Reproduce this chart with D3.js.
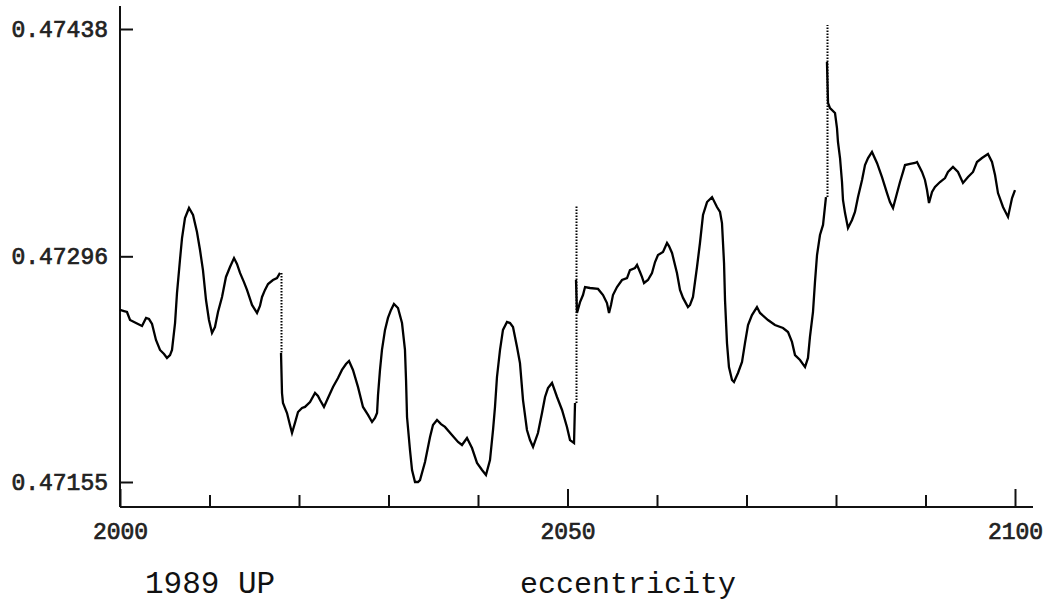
<!DOCTYPE html>
<html>
<head>
<meta charset="utf-8">
<script src="https://cdn.jsdelivr.net/npm/d3@7"></script>
<style>
  html, body { margin: 0; padding: 0; background: #fff; }
  svg { display: block; }
</style>
</head>
<body>
<svg id="chart" width="1049" height="603"></svg>
<script>
// Osculating eccentricity of asteroid 1989 UP, 2000-2100: [year, eccentricity]
const eccentricity = [
  [2000.00,0.472625],[2000.45,0.472618],[2000.78,0.472612],[2001.12,0.472562],[2001.79,0.472543],
  [2002.46,0.472525],[2002.91,0.472575],[2003.24,0.472568],[2003.58,0.472537],[2004.02,0.472437],
  [2004.47,0.472375],[2004.92,0.472350],[2005.25,0.472325],[2005.59,0.472343],[2005.81,0.472375],
  [2006.15,0.472543],[2006.37,0.472731],[2006.70,0.472937],[2006.93,0.473074],[2007.26,0.473199],
  [2007.71,0.473262],[2008.16,0.473218],[2008.60,0.473112],[2008.94,0.472999],[2009.27,0.472874],
  [2009.61,0.472687],[2009.94,0.472562],[2010.28,0.472481],[2010.61,0.472518],[2010.95,0.472612],
  [2011.40,0.472706],[2011.84,0.472831],[2012.29,0.472893],[2012.74,0.472949],[2013.07,0.472912],
  [2013.41,0.472856],[2013.85,0.472799],[2014.19,0.472750],[2014.75,0.472656],[2015.31,0.472606],
  [2015.64,0.472650],[2015.87,0.472706],[2016.20,0.472750],[2016.54,0.472787],[2017.09,0.472812],
  [2017.54,0.472824],[2017.88,0.472856],
  [2017.99,0.472356],[2018.10,0.472106],[2018.21,0.472044],[2018.66,0.471981],[2018.99,0.471906],
  [2019.22,0.471856],[2019.55,0.471919],[2019.89,0.471987],[2020.34,0.472012],[2020.67,0.472019],
  [2021.23,0.472050],[2021.79,0.472106],[2022.12,0.472087],[2022.35,0.472062],[2022.79,0.472019],
  [2023.24,0.472075],[2023.80,0.472144],[2024.36,0.472200],[2024.80,0.472250],[2025.25,0.472287],
  [2025.59,0.472306],[2026.03,0.472250],[2026.59,0.472144],[2027.15,0.472019],[2027.71,0.471969],
  [2028.16,0.471925],[2028.49,0.471950],[2028.72,0.471981],[2028.83,0.472094],[2029.05,0.472250],
  [2029.27,0.472375],[2029.61,0.472500],[2029.94,0.472575],[2030.28,0.472625],[2030.61,0.472662],
  [2031.06,0.472637],[2031.51,0.472543],[2031.84,0.472375],[2031.96,0.472187],[2032.07,0.471956],
  [2032.40,0.471750],[2032.63,0.471625],[2032.96,0.471550],[2033.30,0.471550],[2033.52,0.471562],
  [2034.08,0.471675],[2034.64,0.471831],[2034.97,0.471906],[2035.42,0.471937],[2035.87,0.471912],
  [2036.31,0.471894],[2037.09,0.471844],[2037.77,0.471800],[2038.21,0.471781],[2038.77,0.471825],
  [2039.33,0.471762],[2039.89,0.471669],[2040.45,0.471625],[2040.89,0.471594],[2041.34,0.471687],
  [2041.68,0.471875],[2041.90,0.472019],[2042.12,0.472206],[2042.46,0.472375],[2042.79,0.472500],
  [2043.24,0.472550],[2043.58,0.472543],[2043.91,0.472518],[2044.36,0.472393],[2044.69,0.472293],
  [2045.03,0.472062],[2045.47,0.471875],[2045.81,0.471812],[2046.15,0.471769],[2046.70,0.471856],
  [2047.15,0.471981],[2047.49,0.472081],[2047.82,0.472137],[2048.27,0.472169],[2048.83,0.472081],
  [2049.39,0.472000],[2049.94,0.471894],[2050.28,0.471812],[2050.73,0.471794],[2050.84,0.472044],
  [2050.95,0.472812],[2051.06,0.472606],[2051.40,0.472674],[2051.73,0.472718],[2051.96,0.472768],
  [2052.51,0.472762],[2053.41,0.472756],[2053.97,0.472718],[2054.41,0.472668],[2054.64,0.472606],
  [2054.86,0.472656],[2055.08,0.472718],[2055.53,0.472768],[2056.09,0.472812],[2056.65,0.472824],
  [2056.98,0.472874],[2057.54,0.472887],[2057.77,0.472906],[2058.10,0.472862],[2058.32,0.472831],
  [2058.55,0.472793],[2058.99,0.472812],[2059.44,0.472856],[2059.78,0.472924],[2060.11,0.472968],
  [2060.67,0.472987],[2061.12,0.473043],[2061.34,0.473024],[2061.68,0.472981],[2062.23,0.472856],
  [2062.57,0.472750],[2062.91,0.472700],[2063.46,0.472643],[2063.69,0.472656],[2064.02,0.472706],
  [2064.47,0.472893],[2064.80,0.473043],[2065.14,0.473218],[2065.59,0.473299],[2066.15,0.473330],
  [2066.70,0.473268],[2067.04,0.473237],[2067.26,0.473168],[2067.49,0.472918],[2067.60,0.472687],
  [2067.82,0.472418],[2068.04,0.472268],[2068.38,0.472187],[2068.60,0.472175],[2069.05,0.472231],
  [2069.50,0.472300],[2069.83,0.472418],[2070.17,0.472531],[2070.61,0.472593],[2071.17,0.472643],
  [2071.51,0.472606],[2072.40,0.472562],[2073.18,0.472531],[2074.08,0.472512],[2074.64,0.472487],
  [2075.08,0.472425],[2075.42,0.472343],[2075.98,0.472312],[2076.54,0.472268],[2076.87,0.472325],
  [2077.09,0.472456],[2077.43,0.472612],[2077.65,0.472799],[2077.88,0.472968],[2078.21,0.473093],
  [2078.55,0.473156],[2078.88,0.473330],
  [2078.99,0.474174],[2079.11,0.473918],[2079.33,0.473886],[2079.89,0.473855],[2080.11,0.473761],
  [2080.22,0.473674],[2080.45,0.473574],[2080.67,0.473424],[2080.78,0.473312],[2081.01,0.473230],
  [2081.34,0.473137],[2081.79,0.473187],[2082.12,0.473237],[2082.46,0.473330],[2082.91,0.473437],
  [2083.24,0.473530],[2083.58,0.473574],[2084.02,0.473612],[2084.58,0.473543],[2085.14,0.473455],
  [2085.70,0.473355],[2086.03,0.473299],[2086.37,0.473262],[2086.82,0.473355],[2087.15,0.473424],
  [2087.49,0.473487],[2087.71,0.473530],[2088.27,0.473537],[2088.83,0.473543],[2089.05,0.473549],
  [2089.61,0.473487],[2089.94,0.473437],[2090.17,0.473374],[2090.39,0.473293],[2090.73,0.473362],
  [2091.06,0.473393],[2091.62,0.473424],[2092.18,0.473449],[2092.51,0.473487],[2093.07,0.473518],
  [2093.63,0.473487],[2094.19,0.473418],[2094.75,0.473455],[2095.31,0.473487],[2095.75,0.473549],
  [2096.31,0.473574],[2096.98,0.473599],[2097.43,0.473549],[2097.77,0.473468],[2098.10,0.473355],
  [2098.66,0.473268],[2099.22,0.473206],[2099.67,0.473324],[2100.00,0.473374]
];

// Close approaches: the eccentricity jumps within one sample step
const jumpYears = [2017.99, 2050.90, 2078.99];
const jumpFrom  = [0.472856, 0.472044, 0.473330];
const jumpTo    = [0.472356, 0.473280, 0.474405];

const yTicks = [0.47155, 0.47296, 0.47438];
const xMajorTicks = [2000, 2050, 2100];
const xMinorTicks = [2010, 2020, 2030, 2040, 2060, 2070, 2080, 2090];
const objectName = "1989 UP";
const quantity = "eccentricity";

const svg = d3.select("#chart");
const axisLeftX = 120, axisBottomY = 507, axisTopY = 6, axisRightX = 1033;
const monoFont = "'Liberation Mono', 'DejaVu Sans Mono', monospace";

const x = d3.scaleLinear().domain([2000, 2100]).range([120, 1015]);
const y = d3.scaleLinear().domain([0.47155, 0.47438]).range([482, 29]);

// ---- axes ----
const yAxis = svg.append("g")
  .attr("transform", `translate(${axisLeftX},0)`)
  .call(d3.axisLeft(y).tickValues(yTicks).tickSize(-13).tickSizeOuter(0)
        .tickPadding(12).tickFormat(d3.format(".5f")));
yAxis.select(".domain").attr("d", `M0,${axisTopY}V${axisBottomY}`);

const xMinor = svg.append("g")
  .attr("transform", `translate(0,${axisBottomY})`)
  .call(d3.axisBottom(x).tickValues(xMinorTicks).tickSize(-12).tickSizeOuter(0).tickFormat(""));
xMinor.select(".domain").attr("d", `M${axisLeftX},0H${axisRightX}`);

const xMajor = svg.append("g")
  .attr("transform", `translate(0,${axisBottomY})`)
  .call(d3.axisBottom(x).tickValues(xMajorTicks).tickSize(-18).tickSizeOuter(0)
        .tickPadding(16).tickFormat(d3.format("d")));
xMajor.select(".domain").remove();

svg.selectAll(".domain, .tick line")
  .attr("stroke", "#111").attr("stroke-width", 2);
svg.selectAll(".tick text")
  .attr("fill", "#222")
  .attr("stroke", "#222")
  .attr("stroke-width", 0.7)
  .style("font-family", monoFont)
  .style("font-size", "23px");

// ---- series, split at the jumps ----
const segments = [];
eccentricity.forEach(d => {
  const k = jumpYears.filter(j => j <= d[0]).length;
  (segments[k] = segments[k] || []).push(d);
});

const line = d3.line().x(d => x(d[0])).y(d => y(d[1]));
svg.append("g").selectAll("path")
  .data(segments)
  .join("path")
  .attr("d", line)
  .attr("fill", "none")
  .attr("stroke", "#000")
  .attr("stroke-width", 2.3)
  .attr("stroke-linejoin", "miter");

svg.append("g").selectAll("line")
  .data(jumpYears.map((yr, i) => ({ yr, from: jumpFrom[i], to: jumpTo[i] })))
  .join("line")
  .attr("x1", d => Math.round(x(d.yr)) + 0.5).attr("x2", d => Math.round(x(d.yr)) + 0.5)
  .attr("y1", d => y(d.from)).attr("y2", d => y(d.to))
  .attr("stroke", "#000")
  .attr("stroke-width", 2)
  .attr("stroke-dasharray", "1.5,1.5");

// ---- captions ----
svg.append("text")
  .attr("x", 145).attr("y", 593)
  .style("font-family", monoFont).style("font-size", "31px")
  .attr("fill", "#111")
  .text(objectName);
svg.append("text")
  .attr("x", 520).attr("y", 593)
  .style("font-family", monoFont).style("font-size", "30px")
  .attr("fill", "#111")
  .text(quantity);
</script>
</body>
</html>
